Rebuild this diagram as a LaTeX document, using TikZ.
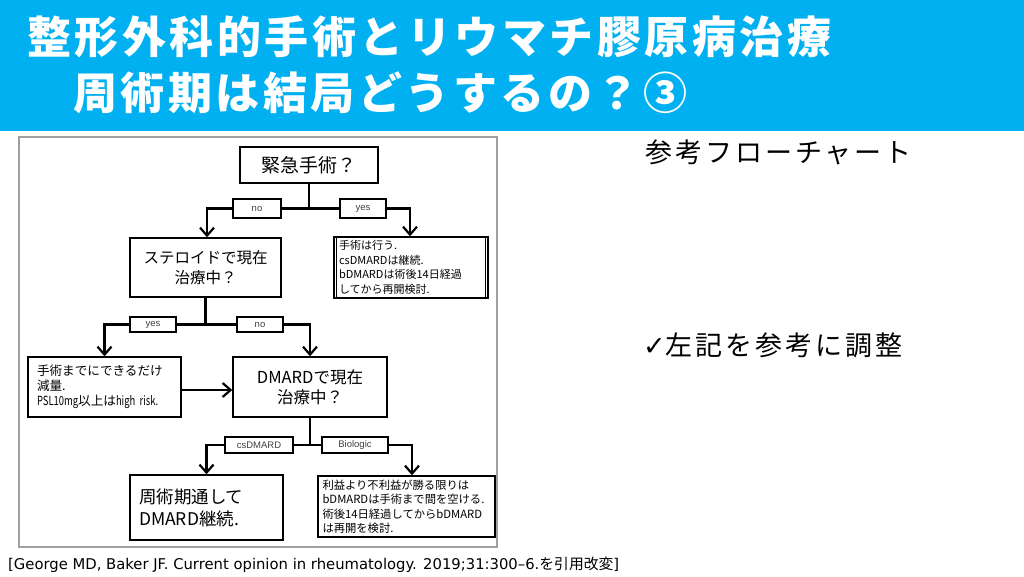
\documentclass[tikz,border=0pt]{standalone}
\usepackage{fontspec}
\setmainfont{Noto Sans CJK JP}
\newfontfamily\jp{Noto Sans CJK JP}
\newfontfamily\jpn[FakeStretch=0.75]{Noto Sans CJK JP}
\newfontfamily\jpwide[LetterSpace=8]{Noto Sans CJK JP}
\newfontfamily\jpright[LetterSpace=11]{Noto Sans CJK JP}
\newfontfamily\lat{Liberation Sans}
\newfontfamily\dv{DejaVu Sans}
\usetikzlibrary{arrows.meta}
\definecolor{banner}{HTML}{00B0F0}
\definecolor{panelgray}{HTML}{A0A0A0}
\newcommand{\fs}[1]{\fontsize{#1}{1.2\dimexpr#1pt\relax}\selectfont}
\tikzset{
  box/.style={draw, line width=1.4pt, fill=white, inner sep=0pt},
  lbl/.style={draw, line width=1.1pt, fill=white, inner sep=0pt, text=black!75, font=\lat\fontsize{9.5}{11}\selectfont},
  conn/.style={line width=2.2pt},
  arr/.style={conn, -{Straight Barb[length=8pt,width=14pt]}},
}
\begin{document}
\begin{tikzpicture}[x=1pt,y=-1pt]
\useasboundingbox (0,0) rectangle (1024,576);
\fill[white] (0,0) rectangle (1024,576);
% banner
\fill[banner] (0,0) rectangle (1024,131);
\node[anchor=base west, inner sep=0pt, text=white, font=\jpwide\bfseries\fs{44}] (t1) at (27,53) {整形外科的手術とリウマチ膠原病治療};
\node[anchor=base west, inner sep=0pt, text=white, font=\jpwide\bfseries\fs{44}] (t2) at (73,109) {周術期は結局どうするの？③};
% right texts
\node[anchor=base west, inner sep=0pt, font=\jpright\fs{27}] (r1) at (645,162) {参考フローチャート};
\node[anchor=base west, inner sep=0pt, font=\jpright\fs{27}] (r2) at (643,355) {{\dv\bfseries ✓}左記を参考に調整};
% citation
\node[anchor=base west, inner sep=0pt, font=\dv\fs{14.8}] (cite) at (8,569) {[George MD, Baker JF. Current opinion in rheumatology. 2019;31:300–6.{\jp を引用改変}]};
% panel
\draw[panelgray, line width=1.5pt, fill=white] (19,137) rectangle (497,547);
% boxes
\node[box, minimum width=138pt, minimum height=36pt, font=\jp\fs{19}] (q1) at (309,165) {緊急手術？};
\node[box, minimum width=151pt, minimum height=59pt, align=center, font=\jp\fs{15.5}] (q2) at (205.5,267.5) {ステロイドで現在\\[2pt]治療中？};
\node[box, minimum width=154pt, minimum height=61pt, text width=144pt, align=left, font=\jp\fontsize{11}{14.5}\selectfont] (a1) at (411,267.5) {手術は行う.\\csDMARDは継続.\\bDMARDは術後14日経過\\してから再開検討.};
\draw[line width=1.2pt] ([xshift=3pt]a1.north west) -- ([xshift=3pt]a1.south west);
\draw[line width=1.2pt] ([xshift=-3pt]a1.north east) -- ([xshift=-3pt]a1.south east);
\node[box, minimum width=153pt, minimum height=60pt, text width=135pt, align=left, font=\jp\fontsize{12.6}{15}\selectfont] (a2) at (104.5,387) {手術までにできるだけ\\減量.\\{\jpn PSL10mg}以上は{\jpn high risk.}};
\node[box, minimum width=154pt, minimum height=60pt, align=center, font=\jp\fs{16.5}] (q3) at (310,387) {DMARDで現在\\治療中？};
\node[box, minimum width=153pt, minimum height=65pt, text width=135pt, align=left, font=\jp\fontsize{17.5}{22}\selectfont] (a3) at (206.5,507.5) {周術期通して\\DMARD継続.};
\node[box, minimum width=177pt, minimum height=61pt, text width=168pt, align=left, font=\jp\fontsize{11.3}{14.5}\selectfont] (a4) at (406.5,506.5) {利益より不利益が勝る限りは\\bDMARDは手術まで間を空ける.\\術後14日経過してからbDMARD\\は再開を検討.};
% labels
\node[lbl, minimum width=48pt, minimum height=19pt] (no1) at (257,208.5) {no};
\node[lbl, minimum width=46pt, minimum height=19pt] (yes1) at (363,208.5) {yes};
\node[lbl, minimum width=46pt, minimum height=15pt] (yes2) at (153,324.5) {yes};
\node[lbl, minimum width=46pt, minimum height=15pt] (no2) at (260,324.5) {no};
\node[lbl, minimum width=68pt, minimum height=16pt] (cs) at (259,445) {csDMARD};
\node[lbl, minimum width=66pt, minimum height=16pt] (bio) at (355,445) {Biologic};
% junctions
\coordinate (j1) at (q1.south |- no1.center);
\coordinate (j2) at (q2.south |- yes2.center);
\coordinate (j3) at (q3.south |- cs.center);
% connectors
\draw[conn] (q1.south) -- (j1);
\draw[conn] (j1) -- (no1.east);
\draw[conn] (j1) -- (yes1.west);
\draw[arr] (no1.west) -| ([xshift=1.5pt]q2.north);
\draw[arr] (yes1.east) -| ([xshift=-1pt]a1.north);
\draw[conn] (q2.south) -- (j2);
\draw[conn] (j2) -- (yes2.east);
\draw[conn] (j2) -- (no2.west);
\draw[arr] (yes2.west) -| (a2.north);
\draw[arr] (no2.east) -| (q3.north);
\draw[arr] ([yshift=-3pt]a2.east) -- ([yshift=-3pt]q3.west);
\draw[conn] (q3.south) -- (j3);
\draw[conn] (j3) -- (cs.east);
\draw[conn] (j3) -- (bio.west);
\draw[arr] (cs.west) -| (a3.north);
\draw[arr] (bio.east) -| ([xshift=5.5pt]a4.north);
\end{tikzpicture}
\end{document}
